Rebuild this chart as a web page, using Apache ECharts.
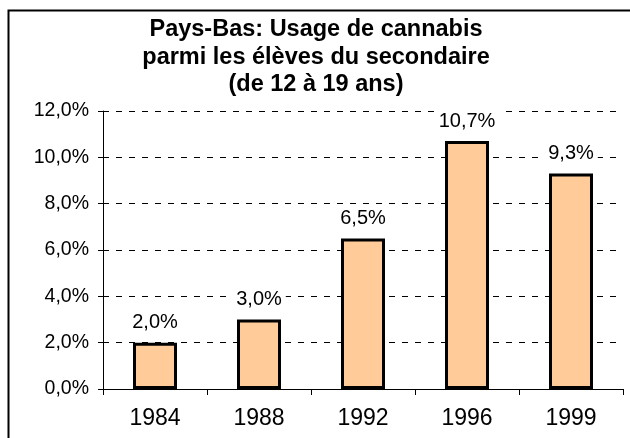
<!DOCTYPE html>
<html>
<head>
<meta charset="utf-8">
<script src="https://cdn.jsdelivr.net/npm/echarts@6/dist/echarts.min.js"></script>
<style>
  html, body { margin: 0; padding: 0; background: #fff; }
  #main { width: 630px; height: 438px; }
</style>
</head>
<body>
<div id="main"></div>
<script>
// données
var annees = ['1984', '1988', '1992', '1996', '1999'];
var usage = [2.0, 3.0, 6.5, 10.7, 9.3];   // en %
var titre = ['Pays-Bas: Usage de cannabis', 'parmi les élèves du secondaire', '(de 12 à 19 ans)'];

var police = "'Liberation Sans', Arial, sans-serif";

function pct(v) {
    return v.toFixed(1).replace('.', ',') + '%';
}

var chart = echarts.init(document.getElementById('main'));

var option = {
    animation: false,
    backgroundColor: '#fff',
    textStyle: { fontFamily: police, color: '#000' },
    grid: { left: 103, right: 7, top: 111, bottom: 49 },
    graphic: [
        {
            // cadre (seuls les bords haut et gauche sont visibles)
            type: 'rect',
            shape: { x: 8.5, y: 10.5, width: 700, height: 500 },
            style: { fill: 'none', stroke: '#000', lineWidth: 2 }
        },
        {
            type: 'text',
            x: 316,
            y: 16,
            style: {
                text: titre.join('\n'),
                font: 'bold 23.5px ' + police,
                fill: '#000',
                textAlign: 'center',
                textVerticalAlign: 'top',
                lineHeight: 27.5
            }
        }
    ],
    xAxis: {
        type: 'category',
        data: annees,
        axisLine: { lineStyle: { color: '#000', width: 1 } },
        axisTick: { show: true, length: 6, lineStyle: { color: '#000' } },
        axisLabel: { color: '#000', fontSize: 23, margin: 18, fontFamily: police }
    },
    yAxis: {
        type: 'value',
        min: 0,
        max: 12,
        interval: 2,
        axisLine: { show: true, lineStyle: { color: '#000', width: 1 } },
        axisTick: { show: true, length: 5, lineStyle: { color: '#000' } },
        axisLabel: {
            color: '#000',
            fontSize: 19.5,
            margin: 14,
            fontFamily: police,
            formatter: function (v) { return pct(v); }
        },
        splitLine: {
            show: true,
            lineStyle: { color: '#000', width: 1, type: [6, 7] }
        }
    },
    series: [
        {
            type: 'bar',
            data: usage,
            barWidth: 44,
            itemStyle: { color: '#FFCC99', borderColor: '#000', borderWidth: 3 },
            label: {
                show: true,
                position: 'top',
                distance: 10,
                color: '#000',
                fontSize: 20,
                fontFamily: police,
                backgroundColor: '#fff',
                padding: [0, 4],
                formatter: function (p) { return pct(p.value); }
            }
        }
    ]
};

chart.setOption(option);
</script>
</body>
</html>
